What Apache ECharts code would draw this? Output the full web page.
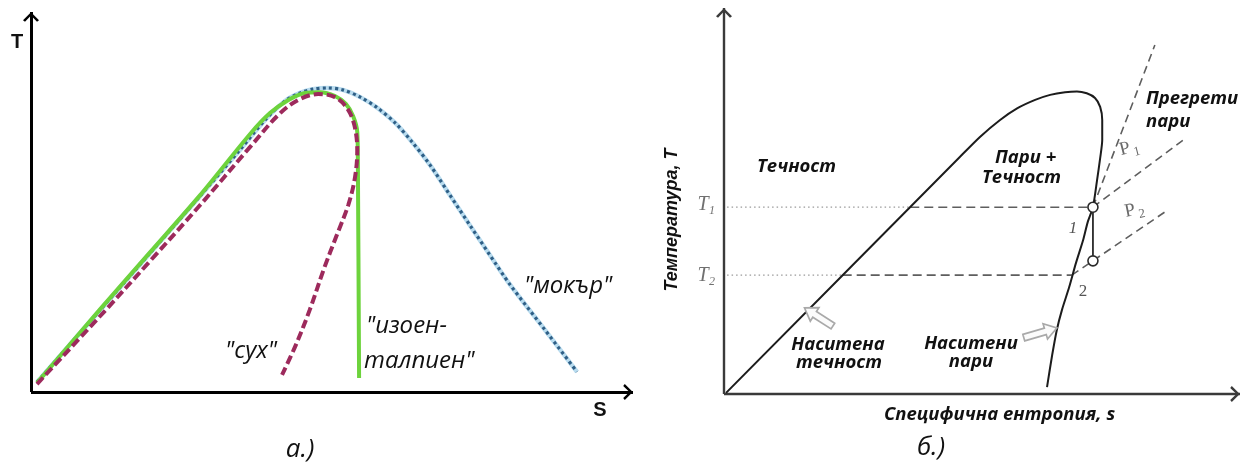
<!DOCTYPE html>
<html><head><meta charset="utf-8">
<script src="https://cdn.jsdelivr.net/npm/echarts@6/dist/echarts.min.js"></script>
<style>html,body{margin:0;padding:0;background:#fff}#c{width:1251px;height:465px}</style>
</head><body><div id="c"></div>
<script>
// ---- Panel а.) : saturation curves of three kinds of working fluid (S 0..100, T 0..100) ----
const wetS = [1.0, 11.5, 19.8, 28.1, 34.7, 38.9, 42.2, 44.7, 46.8, 49.3, 51.8, 54.7, 57.6, 60.5, 63.3, 66.3, 69.6, 72.9, 76.2, 79.6, 85.4, 90.7];
const wetT = [2.6, 21.6, 36.6, 51.6, 63.7, 71.6, 76.6, 78.7, 79.7, 80.0, 79.5, 77.6, 74.7, 70.8, 65.8, 59.7, 51.8, 43.9, 36.1, 28.2, 16.3, 5.3];
const isoS = [1.0, 11.5, 19.8, 28.1, 36.4, 39.7, 42.7, 45.5, 48.0, 50.5, 52.3, 53.5, 54.2, 54.3, 54.5];
const isoT = [2.4, 21.8, 36.8, 51.8, 67.9, 73.4, 76.8, 78.7, 78.9, 77.9, 75.8, 72.6, 68.4, 59.7, 3.7];
const dryS = [1.0, 11.5, 19.8, 28.1, 36.4, 41.4, 44.7, 47.7, 50.5, 52.5, 53.7, 54.2, 53.8, 52.7, 50.8, 48.7, 46.3, 44.0, 41.7];
const dryT = [2.1, 20.0, 34.5, 49.2, 64.5, 73.4, 77.1, 78.4, 77.6, 74.7, 70.3, 63.7, 56.3, 49.2, 41.3, 32.6, 21.6, 12.4, 4.5];

// ---- Panel б.) : T–s diagram with saturation dome and two isobars ----
const domeS = [0.4, 45.7, 49.6, 53.5, 56.8, 60.3, 63.2, 66.1, 68.4, 70.3, 71.9, 72.9, 73.3, 73.3, 72.9, 72.3, 71.5, 70.5, 69.6, 68.2, 66.9, 65.5, 64.5, 63.6, 62.6];
const domeT = [0.3, 61.4, 66.6, 71.0, 74.0, 76.2, 77.5, 78.2, 78.4, 77.9, 76.7, 74.4, 71.0, 65.8, 61.1, 55.4, 48.4, 44.6, 39.9, 33.9, 27.7, 21.8, 16.6, 10.1, 1.8];
const levelT = [48.4, 30.8];          // T1, T2
const liquidS = [36.1, 23.0];         // where T1, T2 meet the liquid line
const vaporS = [71.5, 67.4];          // where T1, T2 meet the vapour line
const statePoints = [[71.5, 48.4], [71.5, 34.5]];   // states 1 and 2
const isobarLines = [
  [[71.5, 48.4], [83.5, 90.4]],
  [[71.5, 48.4], [89.0, 65.8]],
  [[67.4, 30.8], [85.5, 47.2]]
];
const hintArrows = [[21.1, 17.6, 15.6, 22.3], [58.1, 14.6, 64.5, 17.1]]; // tail s,T -> tip s,T

const zip = (a, b) => a.map((v, i) => [v, b[i]]);

const chevron = 'path://M10,0 L20,10 L17.5,12 L10,4.2 L2.5,12 L0,10 Z';
function axisOf(idx, color, width) {
  return {
    gridIndex: idx, type: 'value', min: 0, max: 100,
    axisLine: {
      show: true, onZero: false,
      lineStyle: { color: color, width: width, cap: 'butt' },
      symbol: ['none', chevron], symbolSize: [16, 11], symbolOffset: [0, -5]
    },
    axisTick: { show: false }, axisLabel: { show: false }, splitLine: { show: false }
  };
}

const series = [];
// panel а.)
series.push({ type: 'line', xAxisIndex: 0, yAxisIndex: 0, data: zip(wetS, wetT), smooth: 0.3, showSymbol: false,
  lineStyle: { color: '#b9dcef', width: 4.5 }, z: 2 });
series.push({ type: 'line', xAxisIndex: 0, yAxisIndex: 0, data: zip(wetS, wetT), smooth: 0.3, showSymbol: false,
  lineStyle: { color: '#2f5f86', width: 3.2, type: [3, 3.2] }, z: 3 });
series.push({ type: 'line', xAxisIndex: 0, yAxisIndex: 0, data: zip(isoS, isoT), smooth: 0.3, showSymbol: false,
  lineStyle: { color: '#6dd33c', width: 4 }, z: 4 });
series.push({ type: 'line', xAxisIndex: 0, yAxisIndex: 0, data: zip(dryS, dryT), smooth: 0.35, showSymbol: false,
  lineStyle: { color: '#9d2a5c', width: 4, type: [9, 4] }, z: 5 });

// panel б.)
series.push({ type: 'line', xAxisIndex: 1, yAxisIndex: 1, data: zip(domeS, domeT), smooth: 0.25, showSymbol: false,
  lineStyle: { color: '#1c1c1c', width: 2 }, z: 5 });
levelT.forEach((t, i) => {
  series.push({ type: 'line', xAxisIndex: 1, yAxisIndex: 1, data: [[0.6, t], [liquidS[i], t]], showSymbol: false,
    lineStyle: { color: '#9a9a9a', width: 1.3, type: [1.5, 3] }, z: 3 });
  series.push({ type: 'line', xAxisIndex: 1, yAxisIndex: 1, data: [[liquidS[i], t], [vaporS[i], t]], showSymbol: false,
    lineStyle: { color: '#5e5e5e', width: 1.6, type: [9, 5] }, z: 3 });
});
isobarLines.forEach(seg => {
  series.push({ type: 'line', xAxisIndex: 1, yAxisIndex: 1, data: seg, showSymbol: false,
    lineStyle: { color: '#5e5e5e', width: 1.6, type: [8, 5] }, z: 3 });
});
series.push({ type: 'line', xAxisIndex: 1, yAxisIndex: 1, data: statePoints, showSymbol: false,
  lineStyle: { color: '#2a2a2a', width: 1.8 }, z: 6 });
series.push({ type: 'scatter', xAxisIndex: 1, yAxisIndex: 1, data: statePoints, symbol: 'circle', symbolSize: 10,
  itemStyle: { color: '#fff', borderColor: '#2a2a2a', borderWidth: 1.6, opacity: 1 }, z: 7 });
series.push({ type: 'custom', xAxisIndex: 1, yAxisIndex: 1, data: hintArrows, encode: { x: [0, 2], y: [1, 3] }, z: 8,
  renderItem: function (params, api) {
    const a = api.coord([api.value(0), api.value(1)]);
    const b = api.coord([api.value(2), api.value(3)]);
    const dx = b[0] - a[0], dy = b[1] - a[1];
    const L = Math.sqrt(dx * dx + dy * dy), ux = dx / L, uy = dy / L, nx = -uy, ny = ux;
    const head = 12, hw = 8, sw = 3.4;
    const hb = [b[0] - ux * head, b[1] - uy * head];
    const pts = [
      [a[0] + nx * sw, a[1] + ny * sw], [hb[0] + nx * sw, hb[1] + ny * sw], [hb[0] + nx * hw, hb[1] + ny * hw],
      b, [hb[0] - nx * hw, hb[1] - ny * hw], [hb[0] - nx * sw, hb[1] - ny * sw], [a[0] - nx * sw, a[1] - ny * sw]
    ];
    return { type: 'polygon', shape: { points: pts }, style: { fill: '#fbfbfb', stroke: '#a9a9a9', lineWidth: 1.7 } };
  }
});

function txt(x, y, text, font, opts) {
  opts = opts || {};
  return { type: 'text', x: x, y: y, rotation: opts.rot || 0, z: 20,
    style: { text: text, font: font, fill: opts.fill || '#111',
      align: opts.align || 'left', textAlign: opts.align || 'left',
      verticalAlign: 'middle', textVerticalAlign: 'middle' } };
}
const capFont = 'italic 26px "Open Sans", "Liberation Sans", sans-serif';
const noteFont = 'italic 24px "Open Sans", "Liberation Sans", sans-serif';
const boldFont = 'italic bold 18.5px "Open Sans", "Liberation Sans", sans-serif';
const serif = '"Liberation Serif", "DejaVu Serif", serif';

const graphics = [
  txt(17, 42, 'T', 'bold 20px "Liberation Sans", sans-serif', { align: 'center' }),
  txt(600, 410, 'S', 'bold 20px "Liberation Sans", sans-serif', { align: 'center' }),
  txt(251, 351, '"сух"', noteFont, { align: 'center' }),
  txt(366, 326, '"изоен-', noteFont),
  txt(364, 361, 'талпиен"', noteFont),
  txt(524, 286, '"мокър"', noteFont),
  txt(300, 450, 'а.)', capFont, { align: 'center' }),

  txt(757, 167, 'Течност', boldFont),
  txt(995, 158, 'Пари +', boldFont),
  txt(982, 178, 'Течност', boldFont),
  txt(1146, 99, 'Прегрети', boldFont),
  txt(1146, 122, 'пари', boldFont),
  txt(838, 345, 'Наситена', boldFont, { align: 'center' }),
  txt(839, 363, 'течност', boldFont, { align: 'center' }),
  txt(971, 344, 'Наситени', boldFont, { align: 'center' }),
  txt(971, 362, 'пари', boldFont, { align: 'center' }),
  txt(884, 415, 'Специфична ентропия, s', boldFont),
  txt(931, 448, 'б.)', capFont, { align: 'center' }),
  txt(672, 220, 'Температура, T', 'italic bold 18px "Liberation Sans", sans-serif', { align: 'center', rot: Math.PI / 2 }),

  txt(703, 205, 'T', 'italic 20px ' + serif, { align: 'center', fill: '#707070' }),
  txt(712, 211, '1', 'italic 12px ' + serif, { align: 'center', fill: '#707070' }),
  txt(703, 276, 'T', 'italic 20px ' + serif, { align: 'center', fill: '#707070' }),
  txt(712, 282, '2', 'italic 12px ' + serif, { align: 'center', fill: '#707070' }),
  txt(1073, 229, '1', 'italic 17px ' + serif, { align: 'center', fill: '#555' }),
  txt(1083, 292, '2', '17px ' + serif, { align: 'center', fill: '#555' }),
  txt(1125, 149, 'P', '19px ' + serif, { align: 'center', fill: '#6a6a6a', rot: 0.25 }),
  txt(1137, 152, '1', '13px ' + serif, { align: 'center', fill: '#6a6a6a', rot: 0.25 }),
  txt(1130, 211, 'P', '19px ' + serif, { align: 'center', fill: '#6a6a6a', rot: 0.2 }),
  txt(1142, 214, '2', '13px ' + serif, { align: 'center', fill: '#6a6a6a', rot: 0.2 })
];

const chart = echarts.init(document.getElementById('c'), null, { renderer: 'canvas' });
chart.setOption({
  backgroundColor: '#fff',
  animation: false,
  grid: [
    { left: 31, top: 12, width: 602, height: 380 },
    { left: 724, top: 8, width: 516, height: 386 }
  ],
  xAxis: [axisOf(0, '#000', 3), axisOf(1, '#3a3a3a', 2.4)],
  yAxis: [axisOf(0, '#000', 3), axisOf(1, '#3a3a3a', 2.4)],
  series: series,
  graphic: graphics
});
</script>
</body></html>
